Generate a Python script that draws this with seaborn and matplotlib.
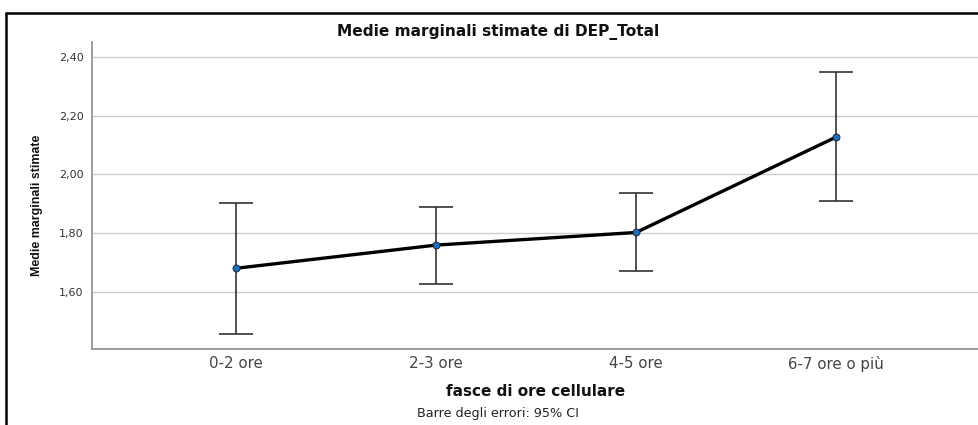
import matplotlib
matplotlib.use("Agg")
import matplotlib.pyplot as plt
from matplotlib.lines import Line2D
from matplotlib.ticker import FuncFormatter, FixedLocator
import seaborn as sns
import pandas as pd
import numpy as np

# Estimated marginal means of DEP_Total by daily phone-use band, with 95% CI
categories = ["0-2 ore", "2-3 ore", "4-5 ore", "6-7 ore o più"]
means = [1.680, 1.759, 1.802, 2.127]
ci_low = [1.457, 1.627, 1.670, 1.908]
ci_high = [1.901, 1.889, 1.935, 2.349]
y_ticks = [1.60, 1.80, 2.00, 2.20, 2.40]

df = pd.DataFrame({"fascia": categories, "media": means})

sns.set_theme(style="white")
plt.rcParams["font.family"] = ["DejaVu Sans"]

W, H = 979, 425
fig = plt.figure(figsize=(W / 100, H / 100), dpi=100)
ax = fig.add_axes([92 / W, (H - 349) / H, (979 - 92) / W, (349 - 42) / H])

# 95% confidence intervals
means_arr = np.array(means)
yerr = np.vstack([means_arr - np.array(ci_low), np.array(ci_high) - means_arr])
ax.errorbar(np.arange(len(categories)), means_arr, yerr=yerr, fmt="none",
            ecolor="#333333", elinewidth=1.2, capsize=12.2, capthick=1.2, zorder=3)

n_before = len(ax.lines)
sns.pointplot(data=df, x="fascia", y="media", color="black", errorbar=None,
              markers="o", linestyles="-", ax=ax)
for ln in ax.lines[n_before:]:
    ln.set_linewidth(2.4)
    ln.set_markersize(5)
    ln.set_markerfacecolor("#1f6fb8")
    ln.set_markeredgecolor("#1b2c40")
    ln.set_markeredgewidth(0.7)
    ln.set_zorder(5)

ax.set_xlim(-0.72, 3.715)
ax.set_ylim(1.405, 2.451)
ax.yaxis.set_major_locator(FixedLocator(y_ticks))
ax.yaxis.set_major_formatter(FuncFormatter(lambda v, p: f"{v:.2f}".replace(".", ",")))
ax.grid(axis="y", color="#cccccc", linewidth=1.0)
ax.grid(axis="x", visible=False)
ax.set_axisbelow(True)

for side in ["top", "right"]:
    ax.spines[side].set_visible(False)
for side in ["left", "bottom"]:
    ax.spines[side].set_color("#8c8c8c")
    ax.spines[side].set_linewidth(1.2)

ax.tick_params(axis="both", length=0)
ax.tick_params(axis="y", labelsize=8, labelcolor="#333333", pad=6)
ax.tick_params(axis="x", labelsize=10.8, labelcolor="#444444", pad=5)

ax.set_xlabel("fasce di ore cellulare", fontsize=11, fontweight="bold",
              color="#111111", labelpad=9)
ax.set_ylabel("")
fig.text(37 / W, 1 - 205 / H, "Medie marginali stimate", rotation=90,
         ha="center", va="center", fontsize=8.9, fontweight="bold",
         family=["Liberation Sans Narrow", "Liberation Sans", "DejaVu Sans"],
         color="#111111")

fig.text(498 / W, 1 - 32 / H, "Medie marginali stimate di DEP_Total",
         ha="center", va="center", fontsize=11.1, fontweight="bold", color="#111111")
fig.text(498 / W, 1 - 413 / H, "Barre degli errori: 95% CI",
         ha="center", va="center", fontsize=9.2, color="#222222")

# outer chart frame (left and top edges)
fig.add_artist(Line2D([6 / W, 6 / W], [0, 1 - 13 / H], transform=fig.transFigure,
                      color="black", linewidth=1.8))
fig.add_artist(Line2D([6 / W, 1], [1 - 13 / H, 1 - 13 / H], transform=fig.transFigure,
                      color="black", linewidth=1.8))

fig.savefig("out.png", dpi=100, facecolor="white")
